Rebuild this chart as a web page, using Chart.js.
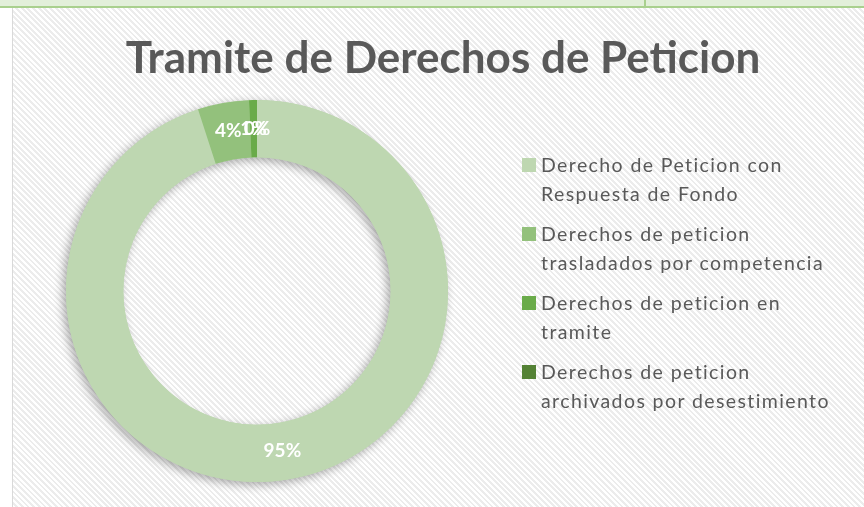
<!DOCTYPE html>
<html>
<head>
<meta charset="utf-8">
<script src="https://cdn.jsdelivr.net/npm/chart.js@4/dist/chart.umd.min.js"></script>
<style>
  body { margin: 0; width: 864px; height: 507px; overflow: hidden; background: #fff; font-family: Lato, "Open Sans", sans-serif; }
  #band { position: absolute; left: 0; top: 0; width: 864px; height: 6px; background: #e2efda; border-bottom: 2px solid #a9d08e; }
  #vline { position: absolute; left: 644px; top: 0; width: 2px; height: 6px; background: #a9d08e; }
  #panel { position: absolute; left: 12px; top: 8px; width: 852px; height: 499px; border-left: 1px solid #d9d9d9;
           background: repeating-linear-gradient(45deg, #ffffff 0 2px, #ececec 2px 4px); }
  #chartBox { position: absolute; left: 13px; top: 8px; width: 851px; height: 499px; }
  #title { position: absolute; left: 11px; top: 34px; width: 864px; text-align: center; font: bold 44px/44px Lato, sans-serif; color: #595959; white-space: nowrap; }
  #legend { position: absolute; left: 522px; top: 150px; margin: 0; padding: 0; list-style: none; }
  #legend li { display: flex; align-items: flex-start; margin-bottom: 11px; }
  #legend .box { width: 14px; height: 14px; margin-top: 8px; margin-right: 5px; flex: none; }
  #legend .txt { font: 19.5px/29px Lato, sans-serif; letter-spacing: 1.4px; color: #595959; white-space: nowrap; }
</style>
</head>
<body>
<div id="band"></div>
<div id="vline"></div>
<div id="panel"></div>
<div id="chartBox"><canvas id="chart"></canvas></div>
<div id="title"></div>
<ul id="legend"></ul>
<script>
var chartTitle = 'Tramite de Derechos de Peticion';
var categories = [
    ['Derecho de Peticion con', 'Respuesta de Fondo'],
    ['Derechos de peticion', 'trasladados por competencia'],
    ['Derechos de peticion en', 'tramite'],
    ['Derechos de peticion', 'archivados por desestimiento']
];
var values = [285, 13, 2, 0];
var colors = ['#bed7b1', '#93c17c', '#6aab4a', '#548235'];

document.getElementById('title').textContent = chartTitle;

// legend with wrapped lines, like the original
var legendList = document.getElementById('legend');
categories.forEach(function (lines, i) {
    var li = document.createElement('li');
    var box = document.createElement('span');
    box.className = 'box';
    box.style.background = colors[i];
    var txt = document.createElement('span');
    txt.className = 'txt';
    lines.forEach(function (line, j) {
        if (j > 0) txt.append(document.createElement('br'));
        txt.append(line);
    });
    li.append(box);
    li.append(txt);
    legendList.append(li);
});

var total = values.reduce(function (a, b) { return a + b; }, 0);

// one soft shadow under the whole ring
let ringShadow = {
    id: 'ringShadow',
    beforeDatasetsDraw(chart) {
        let arc = chart.getDatasetMeta(0).data[0];
        let p = arc.getProps(['x', 'y', 'innerRadius', 'outerRadius'], true);
        let ctx = chart.ctx;
        ctx.save();
        ctx.shadowColor = 'rgba(0,0,0,0.32)';
        ctx.shadowBlur = 10;
        ctx.shadowOffsetX = -3;
        ctx.shadowOffsetY = 3;
        ctx.beginPath();
        ctx.arc(p.x, p.y, p.outerRadius, 0, Math.PI * 2);
        ctx.arc(p.x, p.y, p.innerRadius, Math.PI * 2, 0, true);
        ctx.fillStyle = colors[0];
        ctx.fill();
        ctx.restore();
    }
};

// percentage labels in the middle of each slice
let pctLabels = {
    id: 'pctLabels',
    afterDatasetsDraw(chart) {
        let ctx = chart.ctx;
        ctx.save();
        ctx.font = 'bold 19px Lato, sans-serif';
        ctx.fillStyle = '#ffffff';
        ctx.textAlign = 'center';
        ctx.textBaseline = 'middle';
        chart.getDatasetMeta(0).data.forEach(function (el, i) {
            let pos = el.tooltipPosition();
            ctx.fillText(Math.round(values[i] / total * 100) + '%', pos.x, pos.y);
        });
        ctx.restore();
    }
};

let chartDonut = new Chart(document.getElementById('chart'), {
    type: 'doughnut',
    data: {
        labels: categories,
        datasets: [{
            data: values,
            backgroundColor: colors,
            borderWidth: 0,
            hoverOffset: 0
        }]
    },
    options: {
        responsive: true,
        maintainAspectRatio: false,
        animation: false,
        cutout: '70%',
        layout: {
            padding: { left: 53, top: 92, right: 416, bottom: 25 }
        },
        plugins: {
            legend: { display: false },
            title: { display: false },
            tooltip: { enabled: false }
        }
    },
    plugins: [ringShadow, pctLabels]
});
</script>
</body>
</html>
